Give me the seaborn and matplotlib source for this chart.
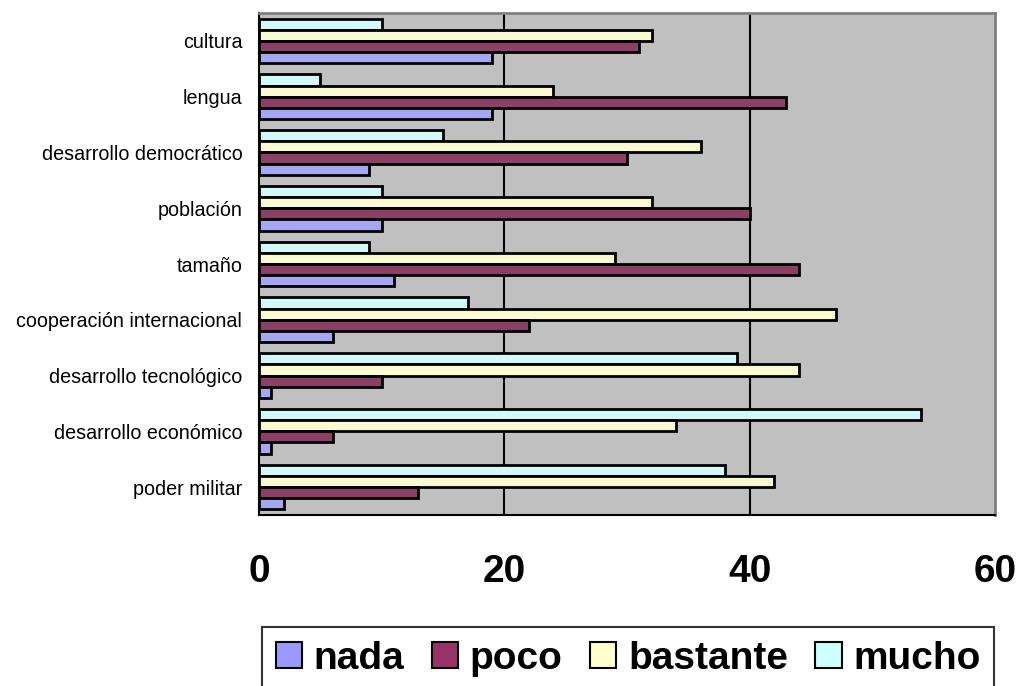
import matplotlib
matplotlib.use("Agg")
import matplotlib.pyplot as plt
import matplotlib.patches as mpatches
import seaborn as sns
import pandas as pd

# categories from top to bottom
categories = ['cultura', 'lengua', 'desarrollo democrático', 'población', 'tamaño',
              'cooperación internacional', 'desarrollo tecnológico',
              'desarrollo económico', 'poder militar']

nada = [19, 19, 9, 10, 11, 6, 1, 1, 2]
poco = [31, 43, 30, 40, 44, 22, 10, 6, 13]
bastante = [32, 24, 36, 32, 29, 47, 44, 34, 42]
mucho = [10, 5, 15, 10, 9, 17, 39, 54, 38]

x_ticks = [0, 20, 40, 60]

colors = {'nada': '#9999FF', 'poco': '#993366', 'bastante': '#FFFFCC', 'mucho': '#CCFFFF'}

df = pd.DataFrame({'categoria': categories, 'nada': nada, 'poco': poco,
                   'bastante': bastante, 'mucho': mucho})
long_df = df.melt(id_vars='categoria', var_name='serie', value_name='valor')

sns.set_style('white')
plt.rcParams['font.family'] = ['Liberation Sans', 'DejaVu Sans']
plt.rcParams['text.color'] = 'black'
plt.rcParams['xtick.color'] = 'black'
plt.rcParams['ytick.color'] = 'black'

fig = plt.figure(figsize=(10.21, 6.86), dpi=100)
ax = fig.add_axes([259 / 1021, 1 - 515 / 686, (995 - 259) / 1021, (515 - 13) / 686])

# mucho drawn on top within each group, nada at the bottom
hue_order = ['mucho', 'bastante', 'poco', 'nada']
sns.barplot(data=long_df, y='categoria', x='valor', hue='serie', order=categories,
            hue_order=hue_order, palette=colors, orient='h', width=0.8,
            edgecolor='black', linewidth=2, ax=ax, legend=False)

ax.set_facecolor('#C0C0C0')
ax.set_xlim(0, 60)
ax.set_ylim(len(categories) - 0.5, -0.5)
ax.set_xticks(x_ticks)
ax.set_xticklabels([str(t) for t in x_ticks], fontsize=28, fontweight='bold')
ax.set_yticks([i for i in range(len(categories))])
ax.set_yticklabels(categories, fontsize=14.2)
ax.set_yticks([i - 0.5 for i in range(len(categories) + 1)], minor=True)
ax.tick_params(axis='y', which='major', length=0, pad=12)
ax.tick_params(axis='y', which='minor', length=6, width=1.5, direction='out', color='black')
ax.tick_params(axis='x', which='major', length=8, width=1.5, direction='out', color='black', pad=20)
ax.set_xlabel('')
ax.set_ylabel('')

for x in x_ticks[1:3]:
    ax.axvline(x, color='black', linewidth=1.5, zorder=0.5)

for side in ['left', 'bottom']:
    ax.spines[side].set_color('black')
    ax.spines[side].set_linewidth(1.5)
for side in ['top', 'right']:
    ax.spines[side].set_color('#808080')
    ax.spines[side].set_linewidth(2)

handles = [mpatches.Patch(facecolor=colors[s], edgecolor='black', linewidth=1.5, label=s)
           for s in ['nada', 'poco', 'bastante', 'mucho']]
leg = fig.legend(handles=handles, loc='upper left', bbox_to_anchor=(262 / 1021, 1 - 627 / 686),
                 ncol=4, frameon=True, fancybox=False, edgecolor='black',
                 prop={'size': 28, 'weight': 'bold'}, handlelength=0.68, handleheight=0.68,
                 handletextpad=0.3, columnspacing=0.7, borderpad=0.35, borderaxespad=0)
leg.get_frame().set_linewidth(1.5)

fig.savefig('out.png', dpi=100)
